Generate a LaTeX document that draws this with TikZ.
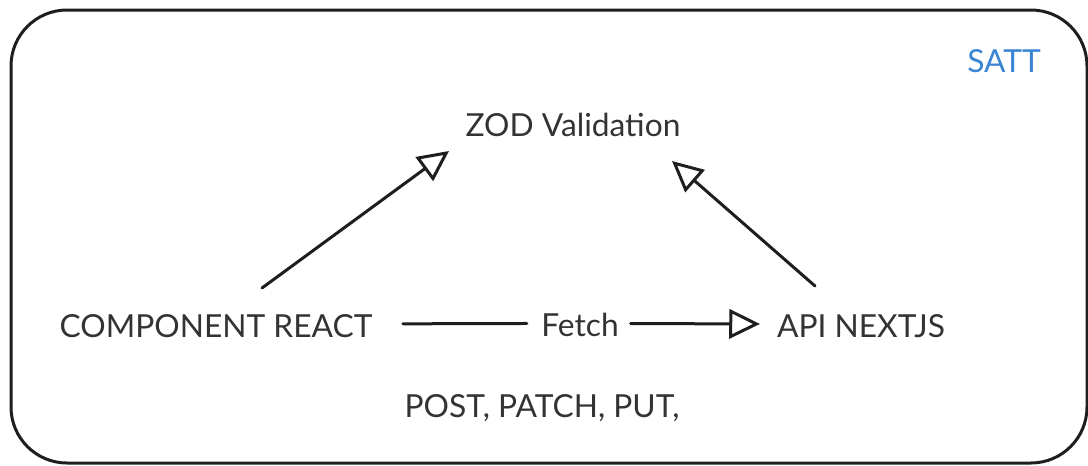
\documentclass[tikz,border=0pt]{standalone}
\usepackage{fontspec}
\setmainfont{Lato}
\usetikzlibrary{arrows.meta}

\definecolor{inkline}{HTML}{1E1E1E}
\definecolor{inktext}{HTML}{333333}
\definecolor{sattblue}{HTML}{3A84D4}

\tikzset{every picture/.style={line width=2.25pt}}
\tikzset{
  labeltext/.style={anchor=base, inner sep=0.75pt, text=inktext,
    font=\fontsize{23.8}{28}\selectfont, text height=20pt, text depth=1pt},
  flowline/.style={draw=inkline, line cap=round},
  flowarrow/.style={flowline, -{Triangle[open, length=23pt, width=22pt, line width=2.25pt]}},
}

\begin{document}
\begin{tikzpicture}[x=0.75pt,y=0.75pt,yscale=-1,xscale=1]
\useasboundingbox (0,0) rectangle (1088,465);

%Rounded Rect
\draw [draw=inkline, rounded corners=42pt] (11,10) rectangle (1087,463);

% Text Node
\node [labeltext, text=sattblue] (satt) at (1004,72) {SATT};
% Text Node
\node [labeltext] (zod) at (573,136) {ZOD Validation};
% Text Node
\node [labeltext] (react) at (216,337) {COMPONENT REACT};
% Text Node
\node [labeltext] (fetch) at (580,336) {Fetch};
% Text Node
\node [labeltext] (api) at (861,337) {API NEXTJS};
% Text Node
\node [labeltext] (verbs) at (542,417) {POST, PATCH, PUT,};

%Connector ends
\coordinate (reactout) at (262,288);
\coordinate (zodleft) at (449,151);
\coordinate (apiout) at (815,286);
\coordinate (zodright) at (672,161);

%Straight Lines
\draw [flowarrow] (reactout) -- (zodleft);
%Straight Lines
\draw [flowarrow] (apiout) -- (zodright);
%Straight Lines
\draw [flowline, shorten <=21pt, shorten >=9pt] (react) -- (fetch);
%Straight Lines
\draw [flowarrow, shorten <=7pt, shorten >=11pt] (fetch) -- (api);
\end{tikzpicture}
\end{document}
